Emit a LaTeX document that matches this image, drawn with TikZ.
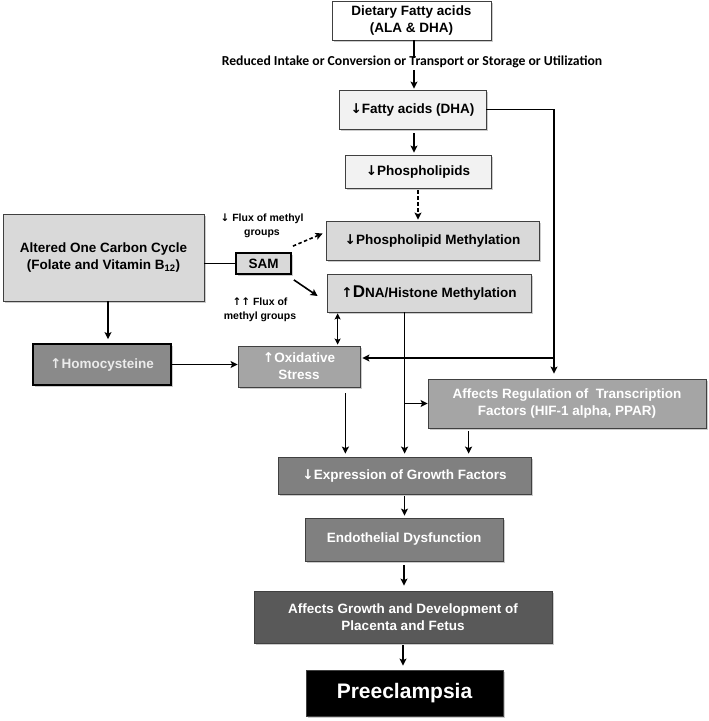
\documentclass[tikz,border=0pt]{standalone}
\usepackage{fontspec}
\setmainfont{Liberation Sans}
\newfontfamily\arrowfont{DejaVu Sans}
\newfontfamily\calfont{Carlito}
\usetikzlibrary{arrows.meta,shadows,calc}
\newcommand{\uarr}{{\arrowfont\char"2191}}
\newcommand{\darr}{{\arrowfont\char"2193}}
\definecolor{lt}{HTML}{F2F2F2}
\definecolor{md}{HTML}{D9D9D9}
\definecolor{gA}{HTML}{A5A5A5}
\definecolor{gH}{HTML}{8A8A8A}
\definecolor{gE}{HTML}{808080}
\definecolor{gG}{HTML}{595959}
\begin{document}
\begin{tikzpicture}[x=1pt,y=-1pt,
  box/.style={draw=black!75, line width=0.8pt, align=center, inner sep=0pt,
    font=\bfseries\fontsize{13.5}{17}\selectfont,
    drop shadow={shadow xshift=1.5pt, shadow yshift=-1.5pt, fill=black!40, opacity=0.5}},
  thickbox/.style={box, draw=black, line width=1.8pt},
  ln/.style={line width=1.6pt, draw=black},
  arr/.style={ln, -{Stealth[length=7pt,width=7pt,inset=1.5pt]}},
  dblarr/.style={ln, {Stealth[length=6pt,width=6pt,inset=1.2pt]}-{Stealth[length=6pt,width=6pt,inset=1.2pt]}},
  dsharr/.style={arr, dash pattern=on 3.5pt off 2.5pt},
  lbl/.style={align=center, inner sep=0pt, font=\bfseries\fontsize{10.5}{14}\selectfont}
]
\useasboundingbox (0,0) rectangle (709,721);

% nodes
\node[box, fill=white, minimum width=159, minimum height=39] (diet) at (411.5,20.5) {Dietary Fatty acids\\(ALA \& DHA)};
\node[inner sep=0pt, font=\calfont\bfseries\fontsize{13.7}{16}\selectfont] (red) at (412,62) {Reduced Intake or Conversion or Transport or Storage or Utilization};
\node[box, fill=lt, minimum width=147, minimum height=39] (fatty) at (412.5,109.5) {\darr Fatty acids (DHA)};
\node[box, fill=lt, minimum width=146, minimum height=33] (phos) at (418,171.5) {\darr Phospholipids};
\node[box, fill=md, minimum width=213, minimum height=39] (plm) at (432.5,240.5) {\darr Phospholipid Methylation};
\node[box, fill=md, minimum width=204, minimum height=38] (dna) at (429,293) {\uarr{\fontsize{17}{17}\selectfont D}NA/Histone Methylation};
\node[box, fill=md, minimum width=201, minimum height=87] (aocc) at (103.5,257.5) {Altered One Carbon Cycle\\(Folate and Vitamin B\textsubscript{12})};
\node[thickbox, fill=md, minimum width=55, minimum height=21] (sam) at (263.5,263.5) {SAM};
\node[thickbox, fill=gH, text=black!8, minimum width=138, minimum height=41] (homo) at (102,364.5) {\uarr Homocysteine};
\node[box, fill=gA, text=white, minimum width=122, minimum height=41] (ox) at (299,366.5) {\uarr Oxidative\\Stress};
\node[box, fill=gA, text=white, minimum width=278, minimum height=49] (trans) at (567,403.5) {Affects Regulation of\ \ Transcription\\Factors (HIF-1 alpha, PPAR)};
\node[box, fill=gE, text=white, minimum width=253, minimum height=37] (expr) at (404.5,475.5) {\darr Expression of Growth Factors};
\node[box, fill=gE, text=white, minimum width=198, minimum height=43] (endo) at (404,539.5) {Endothelial Dysfunction};
\node[box, fill=gG, text=white, minimum width=298, minimum height=52] (grow) at (403,617) {Affects Growth and Development of\\Placenta and Fetus};
\node[box, fill=black, text=white, minimum width=197, minimum height=46, font=\bfseries\fontsize{21}{24}\selectfont] (pre) at (404.5,693) {Preeclampsia};
\node[lbl] (flux1) at (262,226) {\darr\ Flux of methyl\\groups};
\node[lbl] (flux2) at (260,310) {\uarr\uarr\ Flux of\\methyl groups};

% coordinates
\coordinate (rt) at (554,109.5);
\coordinate (jx) at (554,358);
\coordinate (d1) at ($(dna.south west)+(11,0)$);
\coordinate (d2) at ($(dna.south west)+(78,0)$);
\coordinate (o1) at ($(ox.south east)+(-15,0)$);
\coordinate (t1) at ($(trans.south west)+(41,0)$);
\coordinate (a1) at ($(aocc.south)+(4.5,0)$);
\coordinate (dx) at (414,0);

% connectors
\draw[ln] (diet.south -| dx) -- ([yshift=-2pt]red.north -| dx);
\draw[arr, shorten <=2pt, shorten >=1pt] (red.south -| dx) -- (fatty.north -| dx);
\draw[arr, shorten <=4pt, shorten >=2pt] (fatty.south -| dx) -- (phos.north -| dx);
\draw[dsharr, shorten <=2pt, shorten >=1pt] (phos.south) -- (phos.south |- plm.north);
\draw[ln] (fatty.east) -- (rt) -- (jx);
\draw[arr, shorten >=5pt] (jx) -- (jx |- trans.north);
\draw[arr, shorten >=2pt] (jx) -- (ox.east |- jx);
\draw[ln] (aocc.east |- sam.west) -- (sam.west);
\draw[dsharr] ($(sam.north east)+(1,-6)$) -- ($(plm.west)+(-3,-7)$);
\draw[arr] ($(sam.south east)+(2,5)$) -- ($(dna.west)+(-9,3)$);
\draw[dblarr, shorten <=1pt, shorten >=1pt] (d1) -- (d1 |- ox.north);
\draw[arr, shorten >=3pt] (d2) -- (d2 |- expr.north);
\draw[arr] (d2 |- trans.west) -- (trans.west);
\draw[arr, shorten >=4pt] (a1) -- (a1 |- homo.north);
\draw[arr] (homo.east) -- (homo.east -| ox.west);
\draw[arr, shorten <=6pt, shorten >=3pt] (o1) -- (o1 |- expr.north);
\draw[arr, shorten <=3pt, shorten >=3pt] (t1) -- (t1 |- expr.north);
\draw[arr, shorten <=2pt, shorten >=2pt] (expr.south) -- (expr.south |- endo.north);
\draw[arr, shorten <=4pt, shorten >=5pt] (endo.south) -- (endo.south |- grow.north);
\draw[arr, shorten <=2pt, shorten >=4pt] (grow.south) -- (grow.south |- pre.north);
\end{tikzpicture}
\end{document}
